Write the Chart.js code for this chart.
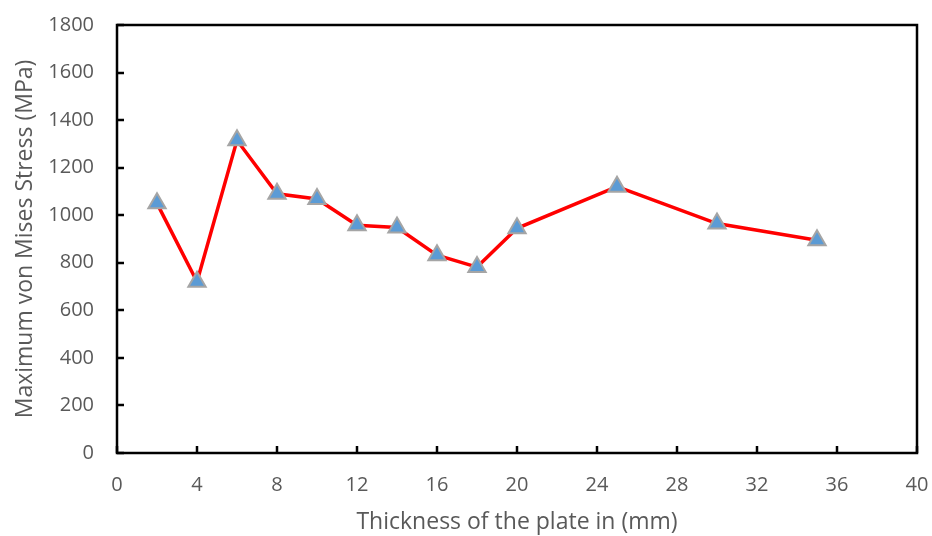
<!DOCTYPE html>
<html>
<head>
<meta charset="utf-8">
<script src="https://cdn.jsdelivr.net/npm/chart.js@4"></script>
<style>
html,body{margin:0;padding:0;background:#fff;}
#wrap{width:932px;height:536px;position:relative;}
</style>
</head>
<body>
<div id="wrap"><canvas id="c" width="932" height="536"></canvas></div>
<script>
const thickness = [2, 4, 6, 8, 10, 12, 14, 16, 18, 20, 25, 30, 35];
const stress = [1050, 720, 1315, 1090, 1068, 958, 948, 832, 782, 945, 1120, 965, 895];
const xTitle = "Thickness of the plate in (mm)";
const yTitle = "Maximum von Mises Stress (MPa)";

const points = thickness.map((x, i) => ({x: x, y: stress[i]}));
const FONT = "Open Sans";
const TXT = "#595959";

const frame = {
  id: 'frame',
  afterDraw(chart) {
    const ctx = chart.ctx, a = chart.chartArea;
    const xs = chart.scales.x, ys = chart.scales.y;
    ctx.save();
    ctx.strokeStyle = '#000';
    ctx.lineWidth = 2.5;
    ctx.beginPath();
    xs.ticks.forEach(t => {
      const px = Math.round(xs.getPixelForValue(t.value));
      ctx.moveTo(px, a.bottom); ctx.lineTo(px, a.bottom - 7);
    });
    ys.ticks.forEach(t => {
      const py = Math.round(ys.getPixelForValue(t.value));
      ctx.moveTo(a.left, py); ctx.lineTo(a.left + 7, py);
    });
    ctx.stroke();
    ctx.strokeRect(a.left, a.top, a.right - a.left, a.bottom - a.top);
    ctx.restore();
  }
};

new Chart(document.getElementById('c'), {
  type: 'scatter',
  data: {
    datasets: [{
      data: points,
      showLine: true,
      borderColor: '#FF0000',
      borderWidth: 3.5,
      pointStyle: 'triangle',
      pointRadius: 10,
      pointBackgroundColor: '#5B9BD5',
      pointBorderColor: '#A5A5A5',
      pointBorderWidth: 2,
      tension: 0
    }]
  },
  options: {
    responsive: false,
    animation: false,
    layout: {padding: {left: 0, right: 15, top: 25, bottom: 0}},
    plugins: {legend: {display: false}, tooltip: {enabled: false}},
    scales: {
      x: {
        type: 'linear', min: 0, max: 40,
        ticks: {stepSize: 4, color: TXT, font: {family: FONT, size: 20}, padding: 20,
                callback: v => String(v)},
        grid: {display: false, drawTicks: false},
        border: {display: false},
        title: {display: true, text: xTitle, color: TXT, font: {family: FONT, size: 23}, padding: {top: 4, bottom: 0}},
        afterFit(s) { s.height = 83; s.paddingLeft = 0; s.paddingRight = 0; }
      },
      y: {
        type: 'linear', min: 0, max: 1800,
        ticks: {stepSize: 200, color: TXT, font: {family: FONT, size: 20}, padding: 23,
                callback: v => String(v)},
        grid: {display: false, drawTicks: false},
        border: {display: false},
        title: {display: true, text: yTitle, color: TXT, font: {family: FONT, size: 23}, padding: {top: 12, bottom: 4}},
        afterFit(s) { s.width = 117; s.paddingTop = 0; s.paddingBottom = 0; }
      }
    }
  },
  plugins: [frame]
});
</script>
</body>
</html>
